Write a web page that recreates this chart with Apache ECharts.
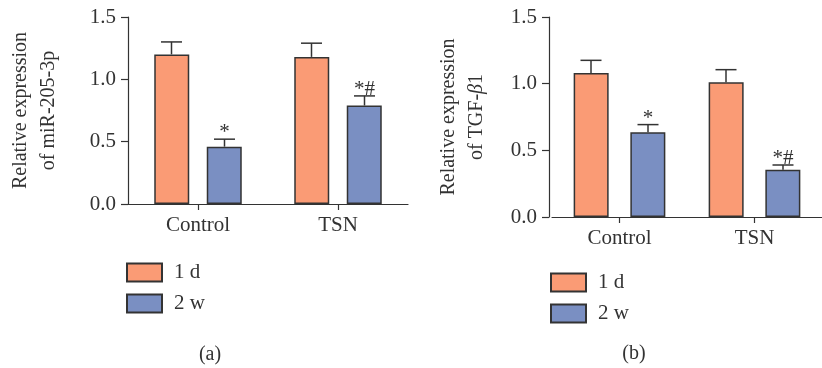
<!DOCTYPE html>
<html>
<head>
<meta charset="utf-8">
<script src="https://cdn.jsdelivr.net/npm/echarts@6/dist/echarts.min.js"></script>
<style>html,body{margin:0;padding:0;background:#fff}#c{width:822px;height:368px}</style>
</head>
<body>
<div id="c"></div>
<script>
// ---- data ----
const categories = ['Control', 'TSN'];
const seriesNames = ['1 d', '2 w'];
const yTicks = [0, 0.5, 1.0, 1.5];

// panel (a): miR-205-3p
const mir_1d = [1.20, 1.18];
const mir_1d_err = [0.10, 0.11];
const mir_2w = [0.46, 0.79];
const mir_2w_err = [0.06, 0.077];
const mir_2w_marks = ['*', '*#'];

// panel (b): TGF-β1
const tgf_1d = [1.08, 1.01];
const tgf_1d_err = [0.095, 0.095];
const tgf_2w = [0.635, 0.355];
const tgf_2w_err = [0.058, 0.035];
const tgf_2w_marks = ['*', '*#'];

const panelLabels = ['(a)', '(b)'];

// ---- style ----
const FONT = 'Liberation Serif';
const ORANGE = '#FA9B75';
const BLUE = '#7A8FC2';
const DARK = '#333333';
const BAR_W = 35;
const FS = 21;

const chart = echarts.init(document.getElementById('c'), null, {renderer: 'canvas'});

function errSeries(xi, vals, errs, offset, marks) {
  return {
    type: 'custom', xAxisIndex: xi, yAxisIndex: xi, z: 5, silent: true,
    data: vals.map((v, i) => [i, v, v + errs[i]]),
    renderItem: function (params, api) {
      const i = api.value(0);
      const p0 = api.coord([i, api.value(1)]);
      const p1 = api.coord([i, api.value(2)]);
      const x = p0[0] + offset;
      const cap = 10.5;
      const children = [
        {type: 'line', shape: {x1: x, y1: p0[1], x2: x, y2: p1[1]}, style: {stroke: DARK, lineWidth: 1.5}},
        {type: 'line', shape: {x1: x - cap, y1: p1[1], x2: x + cap, y2: p1[1]}, style: {stroke: DARK, lineWidth: 1.5}}
      ];
      if (marks && marks[i]) {
        children.push({type: 'text', style: {text: marks[i], x: x, y: p1[1] + 4, align: 'center', verticalAlign: 'bottom',
          fontFamily: FONT, fontSize: FS, fill: DARK}});
      }
      return {type: 'group', children: children};
    }
  };
}

function yAxis(gi, name, offset, gap) {
  return {
    type: 'value', gridIndex: gi, min: 0, max: 1.5, interval: 0.5, offset: offset,
    axisLine: {show: true, lineStyle: {color: DARK, width: 1.2}},
    axisTick: {show: true, length: 7, lineStyle: {color: DARK, width: 1.2}},
    axisLabel: {fontFamily: FONT, fontSize: FS, color: DARK, margin: 12,
      formatter: v => (yTicks.indexOf(v) >= 0 ? v.toFixed(1) : '')},
    splitLine: {show: false},
    name: name, nameLocation: 'middle', nameRotate: 90, nameGap: gap,
    nameTextStyle: {fontFamily: FONT, fontSize: 20, color: DARK, lineHeight: 28,
      rich: {i: {fontFamily: FONT, fontSize: 20, fontStyle: 'italic', color: DARK}}}
  };
}

function xAxis(gi) {
  return {
    type: 'category', gridIndex: gi, data: categories,
    axisLine: {show: true, lineStyle: {color: DARK, width: 1.2}},
    axisTick: {show: true, alignWithLabel: true, length: 6, lineStyle: {color: DARK, width: 1.2}},
    axisLabel: {fontFamily: FONT, fontSize: FS, color: DARK, margin: 11}
  };
}

function bar(xi, name, data, color, gap) {
  return {
    type: 'bar', name: name, xAxisIndex: xi, yAxisIndex: xi, data: data,
    barWidth: BAR_W, barGap: gap,
    itemStyle: {color: color, borderColor: DARK, borderWidth: 1.5}
  };
}

function legend(left, top) {
  return {
    orient: 'vertical', left: left, top: top, padding: 0, data: seriesNames,
    itemWidth: 35, itemHeight: 18, itemGap: 10, icon: 'rect',
    textStyle: {fontFamily: FONT, fontSize: FS, color: DARK, lineHeight: 18, padding: [0, 0, 0, 7]}
  };
}

const option = {
  animation: false,
  grid: [
    {left: 128, top: 17, width: 280, height: 187},
    {left: 552, top: 17, width: 300, height: 200}
  ],
  xAxis: [xAxis(0), xAxis(1)],
  yAxis: [yAxis(0, 'Relative expression\nof miR-205-3p', 0, 65), yAxis(1, 'Relative expression\nof TGF-{i|β}1', 3, 58)],
  legend: [legend(126, 262), legend(550, 272)],
  title: [
    {text: panelLabels[0], left: 210, top: 345, padding: 0, textAlign: 'center',
      textStyle: {fontFamily: FONT, fontSize: 20, fontWeight: 'normal', color: DARK}},
    {text: panelLabels[1], left: 634, top: 344, padding: 0, textAlign: 'center',
      textStyle: {fontFamily: FONT, fontSize: 20, fontWeight: 'normal', color: DARK}}
  ],
  series: [
    bar(0, seriesNames[0], mir_1d, ORANGE, '50%'),
    bar(0, seriesNames[1], mir_2w, BLUE, '50%'),
    bar(1, seriesNames[0], tgf_1d, ORANGE, '62%'),
    bar(1, seriesNames[1], tgf_2w, BLUE, '62%'),
    errSeries(0, mir_1d, mir_1d_err, -26.5, null),
    errSeries(0, mir_2w, mir_2w_err, 26.5, mir_2w_marks),
    errSeries(1, tgf_1d, tgf_1d_err, -28.5, null),
    errSeries(1, tgf_2w, tgf_2w_err, 28.5, tgf_2w_marks)
  ]
};
chart.setOption(option);
</script>
</body>
</html>
